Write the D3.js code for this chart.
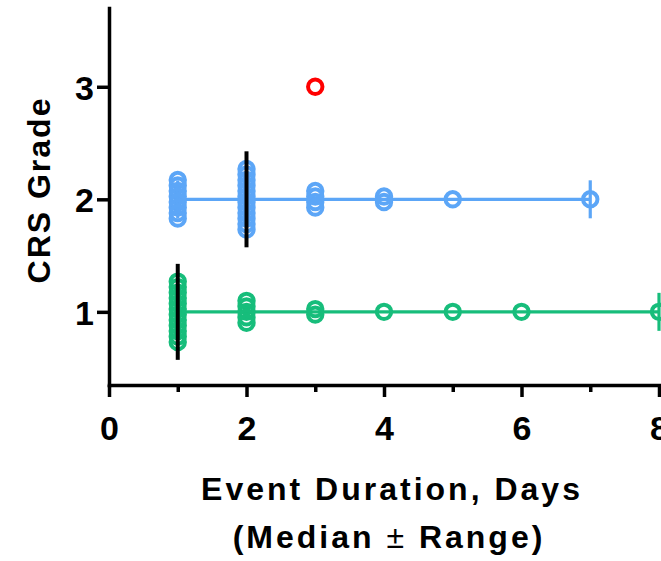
<!DOCTYPE html>
<html>
<head>
<meta charset="utf-8">
<script src="https://cdn.jsdelivr.net/npm/d3@7"></script>
<style>
  html, body { margin: 0; padding: 0; background: #fff; }
  svg { display: block; }
  text { font-family: "Liberation Sans", Arial, sans-serif; font-weight: bold; fill: #000; }
</style>
</head>
<body>
<svg id="chart" width="661" height="561"></svg>
<script>
// ---- Data (number of events at each duration, per CRS grade) ----
const days = [1, 2, 3, 4, 5, 6, 7, 8];
const grade1Counts = [12, 5, 2, 1, 1, 1, 0, 1];
const grade2Counts = [8, 12, 4, 2, 1, 0, 1, 0];
const grade3Counts = [0, 0, 1, 0, 0, 0, 0, 0];
const grades = [1, 2, 3];
const gradeColors = ["#17bd7b", "#5ca6f7", "#ff0000"];
const xTickLabels = [0, 2, 4, 6, 8];
const xMinorTicks = [1, 3, 5, 7];
const yTickLabels = [1, 2, 3];

const series = [
  { grade: 1, counts: grade1Counts, color: gradeColors[0] },
  { grade: 2, counts: grade2Counts, color: gradeColors[1] },
  { grade: 3, counts: grade3Counts, color: gradeColors[2] }
];

const svg = d3.select("#chart");
const x = d3.scaleLinear().domain([0, 8]).range([109, 659]);
const y = d3.scaleLinear().domain([0.35, 3.7]).range([385, 8]);

const spacing = 5.5;   // vertical stacking of overlapping points
const r = 7.2;

const medianLayer = [];
series.forEach(s => {
  const values = [];
  days.forEach((d, i) => { for (let k = 0; k < s.counts[i]; k++) values.push(d); });
  const g = svg.append("g");
  if (values.length > 1) {
    const [mn, mx] = d3.extent(values);
    g.append("line")
      .attr("x1", x(mn)).attr("x2", x(mx))
      .attr("y1", y(s.grade)).attr("y2", y(s.grade))
      .attr("stroke", s.color).attr("stroke-width", 3.2);
    [mn, mx].forEach(v => {
      g.append("line")
        .attr("x1", x(v)).attr("x2", x(v))
        .attr("y1", y(s.grade) - 19).attr("y2", y(s.grade) + 19)
        .attr("stroke", s.color).attr("stroke-width", 3.2);
    });
    medianLayer.push({ grade: s.grade, median: d3.median(values) });
  }
  days.forEach((d, i) => {
    const n = s.counts[i];
    for (let k = 0; k < n; k++) {
      const off = (k - (n - 1) / 2) * spacing;
      g.append("circle")
        .attr("cx", x(d)).attr("cy", y(s.grade) + off)
        .attr("r", r)
        .attr("fill", "none")
        .attr("stroke", s.color).attr("stroke-width", 4);
    }
  });
});

medianLayer.forEach(m => {
  svg.append("line")
    .attr("x1", x(m.median)).attr("x2", x(m.median))
    .attr("y1", y(m.grade) - 48).attr("y2", y(m.grade) + 48)
    .attr("stroke", "#000").attr("stroke-width", 4);
});

const yAxis = svg.append("g").attr("transform", `translate(${x(0)},0)`)
  .call(d3.axisLeft(y).tickValues(yTickLabels).tickSize(12).tickSizeOuter(0).tickFormat(d3.format("d")));
yAxis.select(".domain").attr("stroke-width", 3.5).attr("stroke-linecap", "square");
yAxis.selectAll(".tick line").attr("stroke-width", 3.5);
yAxis.selectAll(".tick text").attr("x", -15).attr("dy", "0.36em")
  .style("font-size", "34px").style("font-family", "Liberation Sans, Arial, sans-serif").style("font-weight", "bold");

const xAxisMinor = svg.append("g").attr("transform", `translate(0,${y(0.35)})`)
  .call(d3.axisBottom(x).tickValues(xMinorTicks).tickSize(7).tickSizeOuter(0).tickFormat(""));
xAxisMinor.select(".domain").remove();
xAxisMinor.selectAll(".tick line").attr("stroke-width", 3.5);

const xAxis = svg.append("g").attr("transform", `translate(0,${y(0.35)})`)
  .call(d3.axisBottom(x).tickValues(xTickLabels).tickSize(12).tickSizeOuter(0).tickFormat(d3.format("d")));
xAxis.select(".domain").attr("stroke-width", 3.5).attr("stroke-linecap", "square");
xAxis.selectAll(".tick line").attr("stroke-width", 3.5);
xAxis.selectAll(".tick text").attr("y", 55).attr("dy", 0)
  .style("font-size", "34px").style("font-family", "Liberation Sans, Arial, sans-serif").style("font-weight", "bold");

svg.append("text")
  .attr("transform", "translate(50,190) rotate(-90)")
  .attr("text-anchor", "middle")
  .style("font-size", "32px").style("letter-spacing", "2px")
  .text("CRS Grade");

svg.append("text")
  .attr("x", 392).attr("y", 500)
  .attr("text-anchor", "middle")
  .style("font-size", "32px").style("letter-spacing", "3px")
  .text("Event Duration, Days");

const t2 = svg.append("text")
  .attr("x", 389).attr("y", 548)
  .attr("text-anchor", "middle")
  .style("font-size", "32px").style("letter-spacing", "3px");
t2.append("tspan").text("(Median ");
t2.append("tspan").style("font-weight", "normal").text("±");
t2.append("tspan").text(" Range)");
</script>
</body>
</html>
